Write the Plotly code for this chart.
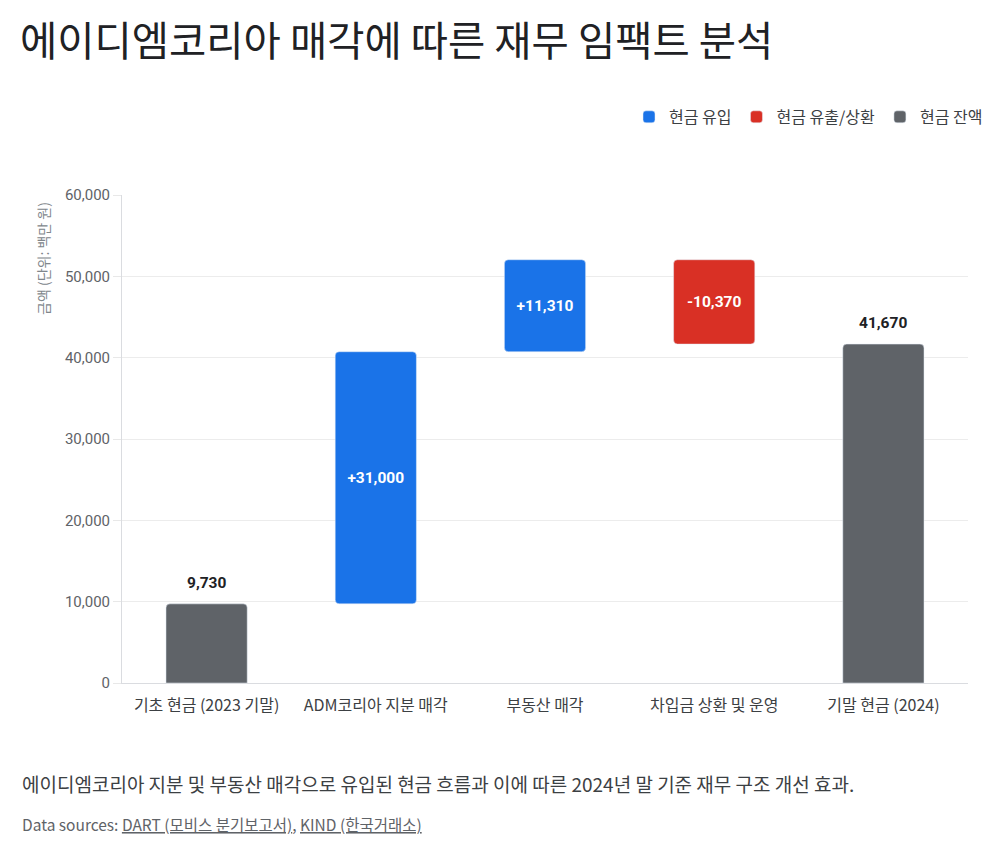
import plotly.graph_objects as go

categories = ["기초 현금 (2023 기말)", "ADM코리아 지분 매각", "부동산 매각", "차입금 상환 및 운영", "기말 현금 (2024)"]
start_cash = 9730
adm_sale = 31000
property_sale = 11310
repayment = -10370
end_cash = 41670
tick_vals = [0, 10000, 20000, 30000, 40000, 50000, 60000]

FONT = "Roboto, 'Noto Sans CJK KR', sans-serif"
KFONT = "'Noto Sans CJK KR', Roboto, sans-serif"

after_adm = start_cash + adm_sale
after_prop = after_adm + property_sale

fig = go.Figure()

fig.add_trace(go.Bar(
    name="현금 유입",
    x=[categories[1], categories[2]],
    y=[adm_sale, property_sale],
    base=[start_cash, after_adm],
    marker=dict(color="#1a73e8"),
    text=[f"+{adm_sale:,}", f"+{property_sale:,}"],
    textposition="inside", insidetextanchor="middle", textangle=0,
    textfont=dict(color="white", size=15.5, family=FONT, weight="bold"),
    hoverinfo="skip",
))
fig.add_trace(go.Bar(
    name="현금 유출/상환",
    x=[categories[3]],
    y=[-repayment],
    base=[after_prop + repayment],
    marker=dict(color="#d93025"),
    text=[f"{repayment:,}"],
    textposition="inside", insidetextanchor="middle", textangle=0,
    textfont=dict(color="white", size=15.5, family=FONT, weight="bold"),
    hoverinfo="skip",
))
balance_x = [categories[0], categories[4]]
balance_y = [start_cash, end_cash]
fig.add_trace(go.Bar(
    name="현금 잔액",
    x=balance_x,
    y=balance_y,
    marker=dict(color="#5f6368"),
    hoverinfo="skip",
))
for cx, cy in zip(balance_x, balance_y):
    fig.add_annotation(x=cx, y=cy, text=f"{cy:,}", showarrow=False, yshift=21,
                       yanchor="middle",
                       font=dict(color="#202124", size=15.5, family=FONT, weight="bold"))

fig.update_layout(
    width=1000, height=854,
    barmode="overlay",
    bargap=0.52,
    barcornerradius=4,
    plot_bgcolor="white", paper_bgcolor="white",
    margin=dict(l=122, r=32, t=195, b=171, autoexpand=False),
    font=dict(family=FONT, color="#5f6368"),
    title=dict(text="에이디엠코리아 매각에 따른 재무 임팩트 분석", x=0.02, xanchor="left",
               y=0.951, yanchor="middle",
               font=dict(family=KFONT, size=40.5, color="#202124")),
    legend=dict(orientation="h", x=(988 - 122) / 846, xanchor="right",
                y=1.16, yanchor="middle",
                font=dict(family=KFONT, size=16, color="#3c4043"),
                itemwidth=30, traceorder="normal"),
    showlegend=True,
)
fig.update_yaxes(
    range=[0, 60000], tickvals=tick_vals, tickformat=",",
    showgrid=True, gridcolor="#ececec", gridwidth=1,
    showline=True, linecolor="#dadce0", linewidth=1,
    ticks="outside", ticklen=8, tickcolor="#e8e8e8",
    tickfont=dict(size=15, color="#5f6368", family=FONT),
    zeroline=False,
)
fig.update_xaxes(
    categoryorder="array", categoryarray=categories,
    showline=True, linecolor="#dadce0", linewidth=1,
    tickfont=dict(size=16, color="#3c4043", family=KFONT),
    ticks="", ticklabelstandoff=8, tickangle=0,
)

fig.add_annotation(
    text="금액 (단위: 백만 원)", textangle=-90,
    xref="paper", yref="paper", x=(43 - 122) / 846, xanchor="center",
    y=(683 - 259) / 488, yanchor="middle", showarrow=False,
    font=dict(family=KFONT, size=14, color="#80868b"),
)
fig.add_annotation(
    text="에이디엠코리아 지분 및 부동산 매각으로 유입된 현금 흐름과 이에 따른 2024년 말 기준 재무 구조 개선 효과.",
    xref="paper", yref="paper", x=(20 - 122) / 846, xanchor="left",
    y=-100 / 488, yanchor="middle", showarrow=False,
    font=dict(family=KFONT, size=19, color="#3c4043"),
)
fig.add_annotation(
    text="Data sources: <u>DART (모비스 분기보고서)</u>, <u>KIND (한국거래소)</u>",
    xref="paper", yref="paper", x=(20 - 122) / 846, xanchor="left",
    y=-141 / 488, yanchor="middle", showarrow=False,
    font=dict(family=KFONT, size=15.5, color="#5f6368"),
)

fig.write_html("out.html")
